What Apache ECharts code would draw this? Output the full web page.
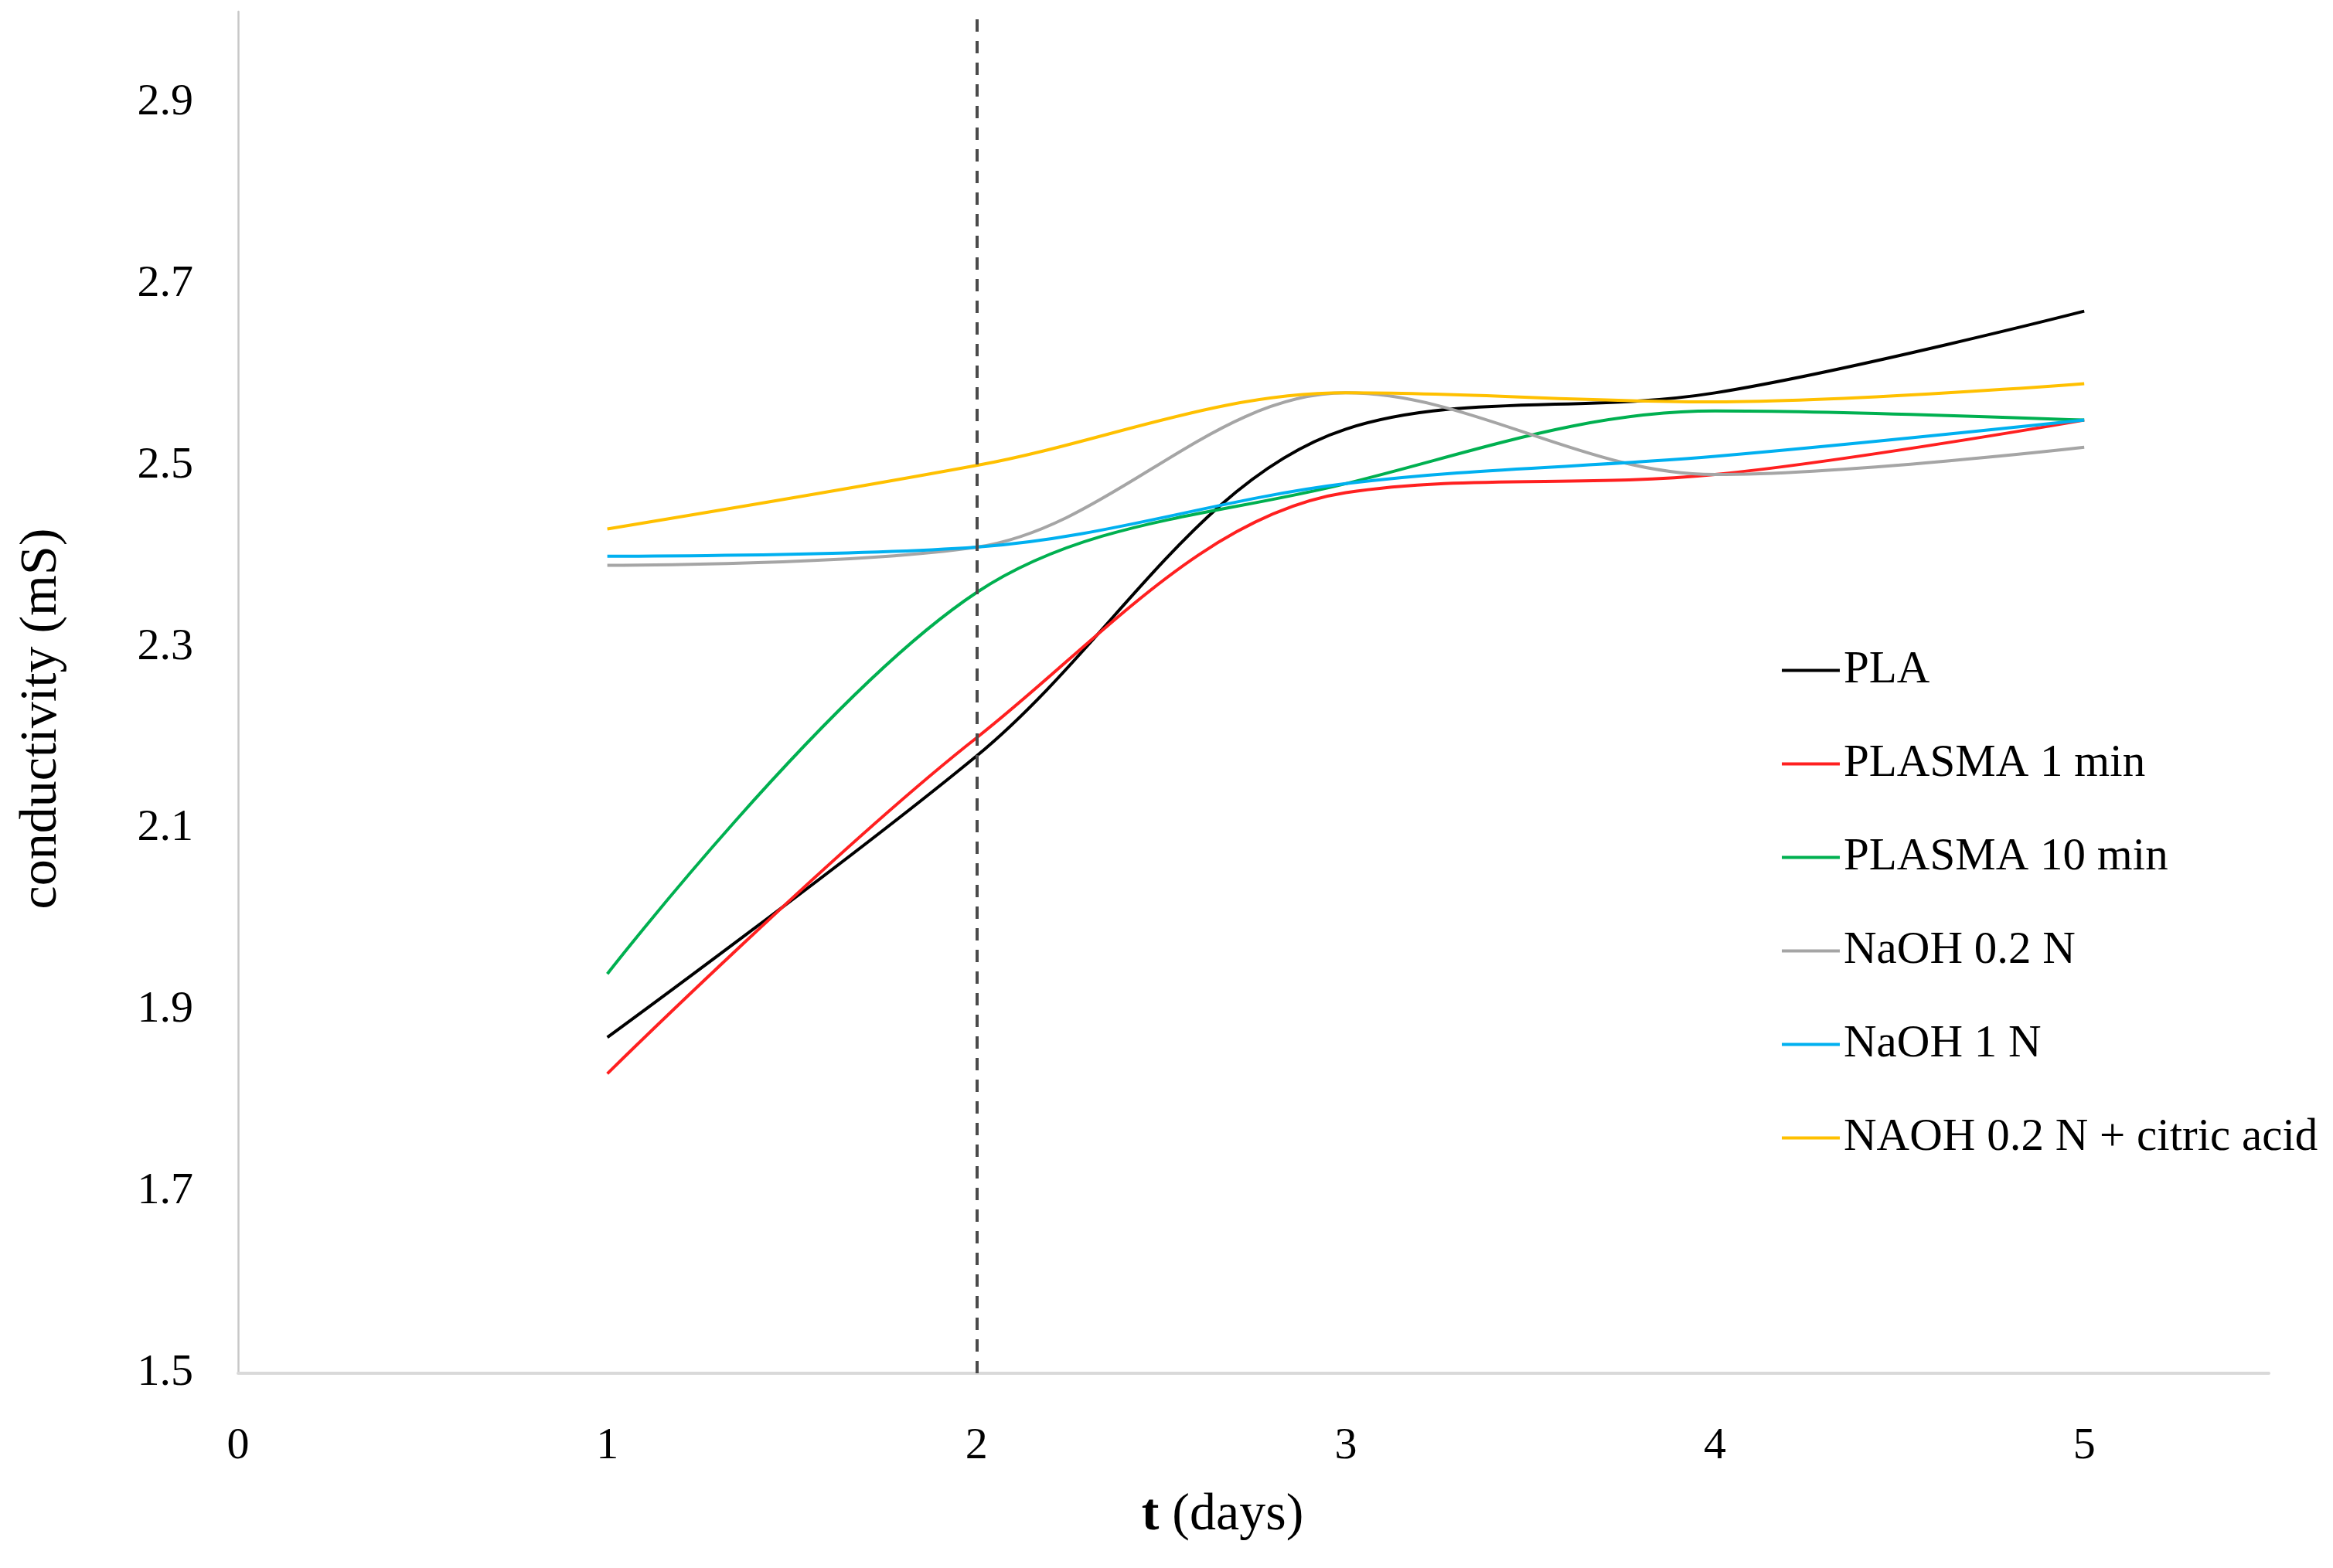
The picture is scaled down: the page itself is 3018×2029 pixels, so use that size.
<!DOCTYPE html>
<html>
<head>
<meta charset="utf-8">
<script src="https://cdn.jsdelivr.net/npm/echarts@6/dist/echarts.min.js"></script>
<style>
html,body{margin:0;padding:0;background:#fff;}
#chart{width:3018px;height:2029px;}
</style>
</head>
<body>
<div id="chart"></div>
<script>
const days = [1, 2, 3, 4, 5];
const seriesNames = ['PLA', 'PLASMA 1 min', 'PLASMA 10 min', 'NaOH 0.2 N', 'NaOH 1 N', 'NAOH 0.2 N + citric acid'];
const pla       = [1.87, 2.18, 2.54, 2.58, 2.67];
const plasma1   = [1.83, 2.20, 2.47, 2.49, 2.55];
const plasma10  = [1.94, 2.36, 2.48, 2.56, 2.55];
const naoh02    = [2.39, 2.41, 2.58, 2.49, 2.52];
const naoh1     = [2.40, 2.41, 2.48, 2.51, 2.55];
const naohCitric= [2.43, 2.50, 2.58, 2.57, 2.59];
const markedDay = 2;

const values = [pla, plasma1, plasma10, naoh02, naoh1, naohCitric];
const colors = ['#000000', '#FF2020', '#00B050', '#A5A5A5', '#00B0F0', '#FFC000'];
const FONT = "'Liberation Serif', 'DejaVu Serif', serif";

const chart = echarts.init(document.getElementById('chart'));
const series = values.map((vals, i) => ({
  name: seriesNames[i],
  type: 'line',
  smooth: 0.35,
  symbol: 'none',
  color: colors[i],
  lineStyle: {width: 4, color: colors[i]},
  data: days.map((d, j) => [d, vals[j]]),
  markLine: i === 0 ? {
    silent: true,
    symbol: 'none',
    label: {show: false},
    lineStyle: {type: [16, 12], color: '#4A4A4A', width: 4},
    data: [{xAxis: markedDay}]
  } : undefined
}));

chart.setOption({
  animation: false,
  backgroundColor: '#ffffff',
  textStyle: {fontFamily: FONT},
  grid: {left: 308, right: 83, top: 15, bottom: 252, containLabel: false},
  legend: {
    orient: 'vertical',
    left: 2300,
    top: 833,
    icon: 'rect',
    itemWidth: 75,
    itemHeight: 4,
    itemGap: 62,
    textStyle: {fontFamily: FONT, fontSize: 59, lineHeight: 58, color: '#000'},
    data: seriesNames
  },
  xAxis: {
    type: 'value',
    min: 0,
    max: 5.5,
    interval: 1,
    name: '{b|t} (days)',
    nameLocation: 'middle',
    nameGap: 150,
    nameTextStyle: {
      fontFamily: FONT, fontSize: 68, color: '#000', padding: [0, 80, 0, 0],
      rich: {b: {fontFamily: FONT, fontSize: 68, fontWeight: 'bold', color: '#000'}}
    },
    axisLine: {show: true, lineStyle: {color: '#D9D9D9', width: 4}},
    axisTick: {show: false},
    splitLine: {show: false},
    axisLabel: {showMaxLabel: false, fontFamily: FONT, fontSize: 58, color: '#000', margin: 66}
  },
  yAxis: {
    type: 'value',
    min: 1.5,
    max: 3.0,
    interval: 0.2,
    name: 'conductivity (mS)',
    nameLocation: 'middle',
    nameGap: 220,
    nameRotate: 90,
    nameTextStyle: {fontFamily: FONT, fontSize: 68, color: '#000', padding: [0, 68, 0, 0]},
    axisLine: {show: true, lineStyle: {color: '#C8C8C8', width: 2.5}},
    axisTick: {show: false},
    splitLine: {show: false},
    axisLabel: {
      showMaxLabel: false, fontFamily: FONT, fontSize: 58, color: '#000', margin: 58,
      formatter: v => v.toFixed(1)
    }
  },
  series: series
});
</script>
</body>
</html>
